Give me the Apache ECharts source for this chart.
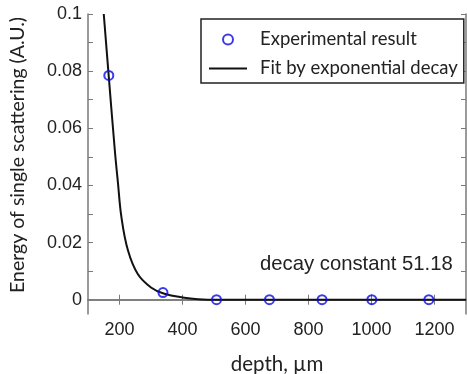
<!DOCTYPE html>
<html>
<head>
<meta charset="utf-8">
<script src="https://cdn.jsdelivr.net/npm/echarts@6/dist/echarts.min.js"></script>
<style>html,body{margin:0;padding:0;background:#fff}#c{width:467px;height:374px}</style>
</head>
<body>
<div id="c"></div>
<script>
// Experimental points (depth in µm, energy in A.U.)
const expDepth = [166, 338, 508, 676, 843, 1001, 1182];
const expEnergy = [0.0785, 0.0025, 0, 0, 0, 0, 0];
// Fit curve
const fitDepth = [150, 166, 185, 195, 206, 227, 258, 300, 340, 406, 450, 506, 1300];
const fitEnergy = [0.1, 0.078, 0.0525, 0.041, 0.029, 0.0172, 0.009, 0.0043, 0.0022, 0.0007, 0.0002, 0, 0];
const xTickValues = [200, 400, 600, 800, 1000, 1200];
const yTickValues = [0, 0.01, 0.02, 0.03, 0.04, 0.05, 0.06, 0.07, 0.08, 0.09, 0.1];
const yLabelValues = [0, 0.02, 0.04, 0.06, 0.08, 0.1];
const annotation = 'decay constant 51.18';

const expData = expDepth.map((d, i) => [d, expEnergy[i]]);
const fitData = fitDepth.map((d, i) => [d, fitEnergy[i]]);

const axisGrey = '#7a7a7a';
const chart = echarts.init(document.getElementById('c'));
chart.setOption({
  animation: false,
  grid: {left: 88, right: 1, top: 14, bottom: 60, containLabel: false, outerBoundsMode: 'none'},
  xAxis: [{
    type: 'value', min: 100, max: 1300,
    name: 'depth, µm', nameLocation: 'middle', nameGap: 40,
    nameTextStyle: {fontFamily: 'Lato', fontSize: 20.5, color: '#222'},
    axisLine: {show: true, lineStyle: {color: axisGrey, width: 1.5}},
    axisTick: {show: true, inside: true, length: 5, customValues: xTickValues, lineStyle: {color: axisGrey}},
    axisLabel: {customValues: xTickValues, formatter: v => String(v), fontFamily: 'Liberation Sans', fontSize: 18, color: '#222', margin: 7},
    splitLine: {show: false}
  }, {
    type: 'value', min: 100, max: 1300, position: 'top',
    axisLine: {show: true, lineStyle: {color: axisGrey, width: 1.5}},
    axisTick: {show: true, inside: true, length: 5, customValues: xTickValues, lineStyle: {color: axisGrey}},
    axisLabel: {show: false},
    splitLine: {show: false}
  }],
  yAxis: [{
    type: 'value', min: -0.005, max: 0.1,
    name: 'Energy of single scattering (A.U.)', nameLocation: 'middle', nameGap: 60,
    nameTextStyle: {fontFamily: 'Lato', fontSize: 19.5, color: '#222', padding: [0, 0, 0, 18]},
    axisLine: {show: true, lineStyle: {color: axisGrey, width: 1.5}},
    axisTick: {show: true, inside: true, length: 5, customValues: yTickValues, lineStyle: {color: axisGrey}},
    axisLabel: {customValues: yLabelValues, formatter: v => String(v), fontFamily: 'Liberation Sans', fontSize: 18, color: '#222', margin: 6},
    splitLine: {show: false}
  }, {
    type: 'value', min: -0.005, max: 0.1, position: 'right',
    axisLine: {show: true, lineStyle: {color: axisGrey, width: 1.5}},
    axisTick: {show: true, inside: true, length: 5, customValues: yTickValues, lineStyle: {color: axisGrey}},
    axisLabel: {show: false},
    splitLine: {show: false}
  }],
  legend: {
    orient: 'vertical', left: 201, top: 19,
    padding: [11, 6, 5, 7], itemGap: 10,
    itemWidth: 38, itemHeight: 10,
    borderColor: '#222', borderWidth: 1.5, backgroundColor: '#fff',
    textStyle: {fontFamily: 'Lato', fontSize: 18.5, color: '#222', padding: [0, 0, 0, 8]},
    data: [
      {name: 'Experimental result'},
      {name: 'Fit by exponential decay', itemStyle: {opacity: 0}}
    ]
  },
  graphic: [{
    type: 'text', left: 260, top: 254,
    style: {text: annotation, font: '20.3px "Liberation Sans"', fill: '#222'}
  }],
  series: [{
    name: 'Fit by exponential decay', type: 'line', data: fitData,
    smooth: 0.4, showSymbol: false, symbol: 'none', clip: true,
    lineStyle: {color: '#111', width: 2}, itemStyle: {color: '#111'}, z: 2
  }, {
    name: 'Experimental result', type: 'scatter', data: expData,
    symbol: 'circle', symbolSize: 9,
    itemStyle: {color: 'rgba(0,0,0,0)', borderColor: '#0a0ae6', borderWidth: 2}, z: 3
  }]
});
</script>
</body>
</html>
